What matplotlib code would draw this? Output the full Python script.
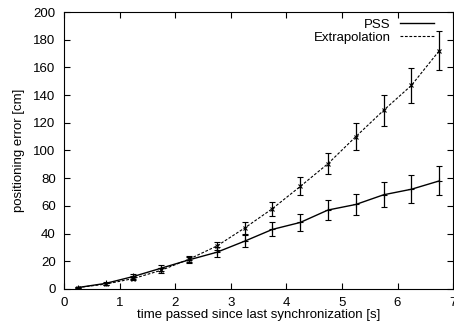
import numpy as np
import matplotlib
matplotlib.use("Agg")
import matplotlib.pyplot as plt
from matplotlib.lines import Line2D

plt.rcParams['font.family'] = ['Liberation Sans', 'DejaVu Sans']

# time since last sync [s]
t = [0.25, 0.75, 1.25, 1.75, 2.25, 2.75, 3.25, 3.75, 4.25, 4.75, 5.25, 5.75, 6.25, 6.75]

# PSS
pss = [1, 4, 9, 15, 21, 26.5, 34.5, 43, 48, 57, 61, 68, 72, 78]
pss_err = [0.7, 1, 1.5, 2, 2, 3.5, 4.5, 5, 6, 7, 7.5, 9, 10, 10.5]

# Extrapolation
ext = [1, 3.5, 7.5, 13.5, 21.5, 31, 44, 58, 74, 90.5, 110, 129, 147, 172]
ext_err = [0.5, 0.8, 1.2, 1.8, 2, 3, 4, 5, 6.5, 7.5, 9.5, 11, 12.5, 14]

fig = plt.figure(figsize=(4.54, 3.25), dpi=100)
ax = fig.add_axes([0.141, 0.111, 0.857, 0.852])

ax.errorbar(t, pss, yerr=pss_err, color='black', lw=1.0, marker='+', ms=4.5,
            mew=0.8, capsize=2, elinewidth=0.9, capthick=0.9)
ax.errorbar(t, ext, yerr=ext_err, color='black', lw=0.8, ls=(0, (2.5, 1.5)),
            marker='x', ms=3.5, mew=0.8, capsize=2, elinewidth=0.9, capthick=0.9)

ax.set_xlim(0, 7)
ax.set_ylim(0, 200)
ax.set_xticks(range(0, 8))
ax.set_yticks(range(0, 201, 20))
ax.tick_params(direction='in', top=True, right=True, labelsize=9.5, length=4)
ax.tick_params(axis='x', pad=6)
ax.tick_params(axis='y', pad=6)
for s in ax.spines.values():
    s.set_linewidth(0.8)

ax.set_xlabel('time passed since last synchronization [s]', fontsize=9.5, labelpad=0)
ax.set_ylabel('positioning error [cm]', fontsize=9.5, labelpad=6)

handles = [Line2D([], [], color='black', lw=1.0),
           Line2D([], [], color='black', lw=0.8, ls=(0, (2.5, 1.5)))]
ax.legend(handles, ['PSS', 'Extrapolation'], loc='upper right', frameon=False,
          markerfirst=False, fontsize=9.5, handlelength=2.6, handletextpad=0.7,
          labelspacing=0.05, borderaxespad=0.0, bbox_to_anchor=(0.965, 0.995))

fig.savefig('out.png', dpi=100)
